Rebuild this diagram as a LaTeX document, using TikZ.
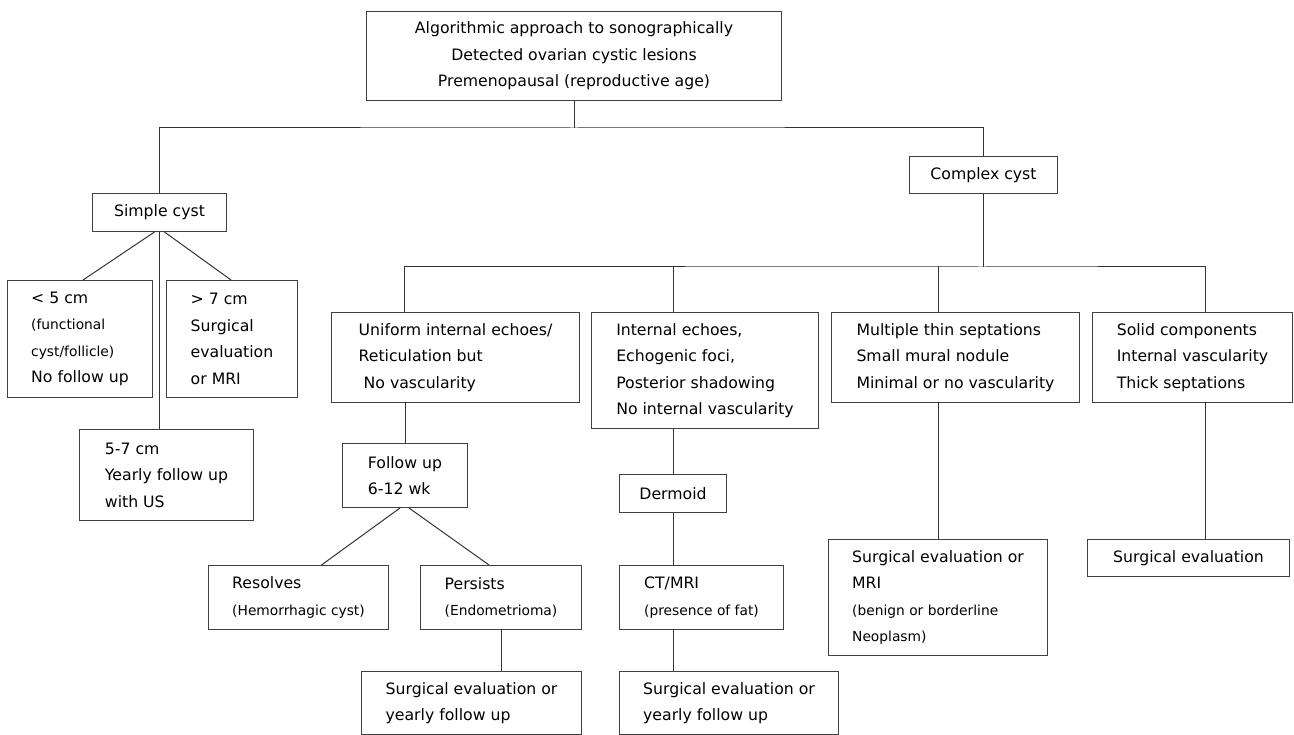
\documentclass[tikz,border=0pt]{standalone}
\usepackage{fontspec}
\setmainfont{DejaVu Sans}
\usetikzlibrary{positioning,calc}
\newcommand{\sm}[1]{{\fontsize{13.8}{26.5}\selectfont #1}}

\begin{document}
\begin{tikzpicture}[x=1pt, y=-1pt, line width=1pt,
font=\fontsize{15.7}{26.5}\selectfont]
   \tikzstyle{cell}=[draw=black!75, anchor=north west, inner sep=0pt, align=left]
   \tikzstyle{link}=[draw=black!80]
\useasboundingbox (0,0) rectangle (1294,735);

\node[cell, align=center, minimum width=415, minimum height=89] (top) at (366,11)
  {Algorithmic approach to sonographically\\ Detected ovarian cystic lesions\\ Premenopausal (reproductive age)};

% simple cyst side
\node[cell, minimum width=134, minimum height=38] (simple) at (92,193) {Simple cyst};
\node[cell, minimum width=145, minimum height=117] (lt5) at (7,280)
  {< 5 cm\\ \sm{(functional}\\ \sm{cyst/follicle)}\\ No follow up};
\node[cell, minimum width=131, minimum height=117] (gt7) at (166,280)
  {> 7 cm\\ Surgical\\ evaluation\\ or MRI};
\node[cell, minimum width=174, minimum height=91] (mid57) at (79,429)
  {5-7 cm\\ Yearly follow up\\ with US};

% complex cyst side
\node[cell, minimum width=148, minimum height=37] (complex) at (909,156) {Complex cyst};
\node[cell, minimum width=248, minimum height=90] (uniform) at (331,312)
  {Uniform internal echoes/\\ Reticulation but\\ \hspace{5pt}No vascularity};
\node[cell, minimum width=227, minimum height=116] (internal) at (591,312)
  {Internal echoes,\\ Echogenic foci,\\ Posterior shadowing\\ No internal vascularity};
\node[cell, minimum width=248, minimum height=90] (multi) at (831,312)
  {Multiple thin septations\\ Small mural nodule\\ Minimal or no vascularity};
\node[cell, minimum width=200, minimum height=90] (solid) at (1092,312)
  {Solid components\\ Internal vascularity\\ Thick septations};

\node[cell, minimum width=125, minimum height=64] (followup) at (342,443) {Follow up\\ 6-12 wk};
\node[cell, minimum width=180, minimum height=64] (resolves) at (208,565)
  {Resolves\\ \sm{(Hemorrhagic cyst)}};
\node[cell, minimum width=161, minimum height=64] (persists) at (420,565)
  {Persists\\ \sm{(Endometrioma)}};
\node[cell, minimum width=220, minimum height=63] (surgA) at (361,671)
  {Surgical evaluation or\\ yearly follow up};

\node[cell, minimum width=107, minimum height=38] (dermoid) at (619,474) {Dermoid};
\node[cell, minimum width=164, minimum height=64] (ctmri) at (619,565)
  {CT/MRI\\ \sm{(presence of fat)}};
\node[cell, minimum width=219, minimum height=63] (surgB) at (619,671)
  {Surgical evaluation or\\ yearly follow up};

\node[cell, minimum width=219, minimum height=116] (surgMRI) at (828,539)
  {Surgical evaluation or\\ MRI\\ \sm{(benign or borderline}\\ \sm{Neoplasm)}};
\node[cell, minimum width=202, minimum height=37] (surgC) at (1087,539) {Surgical evaluation};

% first split
\draw[link] (top.south) -- ++(0,27) coordinate (bus1);
\draw[link] (simple.north) |- (bus1) -| (complex.north);

\draw[link] ([xshift=-5pt]simple.south) -- ([xshift=3pt]lt5.north);
\draw[link] ([xshift=5pt]simple.south) -- ([xshift=-1pt]gt7.north);
\draw[link] (simple.south) -- (simple.south |- mid57.north);

% complex split
\draw[link] (complex.south) -- ++(0,73) coordinate (bus2);
\draw[link] ([xshift=-51pt]uniform.north) |- (bus2) -| ([xshift=13pt]solid.north);
\draw[link] ([xshift=-32pt]internal.north) -- ++(0,-46);
\draw[link] ([xshift=-17pt]multi.north) -- ++(0,-46);

\draw[link] (followup.north |- uniform.south) -- (followup.north);
\draw[link] ([xshift=-5pt]followup.south) -- ([xshift=23pt]resolves.north);
\draw[link] ([xshift=4pt]followup.south) -- ([xshift=-12pt]persists.north);
\draw[link] (persists.south) -- (persists.south |- surgA.north);

\draw[link] (dermoid.north |- internal.south) -- (dermoid.north);
\draw[link] (dermoid.south) -- (dermoid.south |- ctmri.north);
\draw[link] (dermoid.south |- ctmri.south) -- (dermoid.south |- surgB.north);

\draw[link] (surgMRI.north |- multi.south) -- (surgMRI.north);
\draw[link] ([xshift=13pt]solid.south) -- ([xshift=17pt]surgC.north);
\end{tikzpicture}
\end{document}
